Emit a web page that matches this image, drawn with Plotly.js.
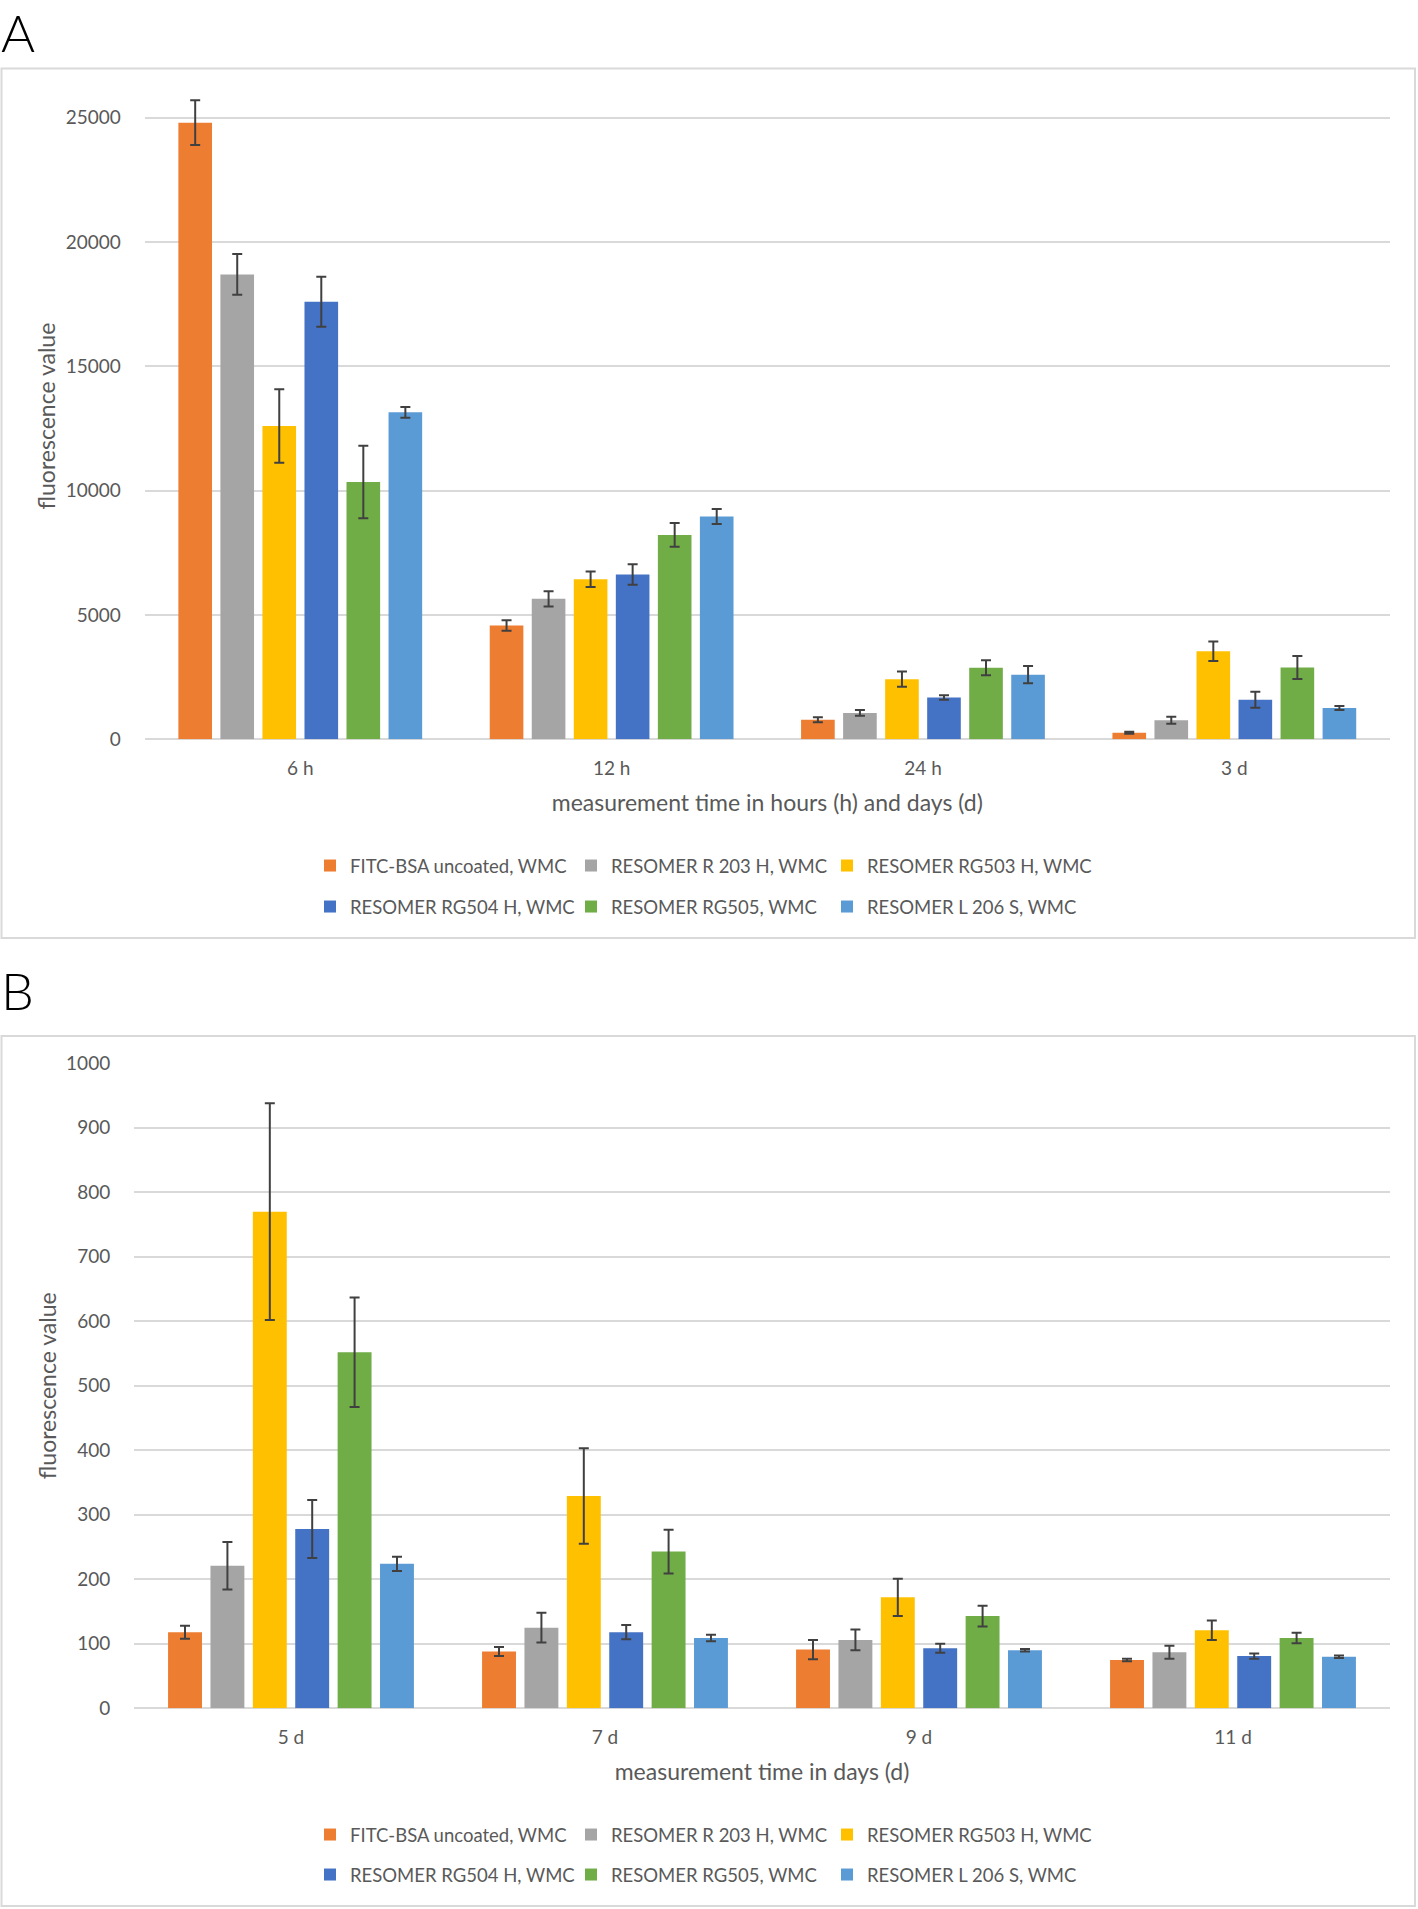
<!DOCTYPE html>
<html>
<head>
<meta charset="utf-8">
<script src="https://cdn.plot.ly/plotly-3.0.1.min.js"></script>
<style>
  html, body { margin: 0; padding: 0; background: #ffffff; }
  #chart { width: 1418px; height: 1909px; }
</style>
</head>
<body>
<div id="chart"></div>
<script>
// ---------- Data ----------
const seriesNames = [
  "FITC-BSA uncoated, WMC",
  "RESOMER R 203 H, WMC",
  "RESOMER RG503 H, WMC",
  "RESOMER RG504 H, WMC",
  "RESOMER RG505, WMC",
  "RESOMER L 206 S, WMC"
];
const seriesColors = ["#ED7D31", "#A5A5A5", "#FFC000", "#4472C4", "#70AD47", "#5B9BD5"];

// Panel A
const categoriesA = ["6 h", "12 h", "24 h", "3 d"];
const fitcA    = [24800, 4580, 790, 260];
const r203hA   = [18700, 5650, 1060, 770];
const rg503hA  = [12600, 6440, 2420, 3540];
const rg504hA  = [17600, 6630, 1680, 1590];
const rg505A   = [10350, 8220, 2880, 2890];
const l206sA   = [13150, 8960, 2600, 1260];
const fitcAErr   = [900, 210, 100, 40];
const r203hAErr  = [820, 310, 115, 140];
const rg503hAErr = [1480, 310, 310, 390];
const rg504hAErr = [1010, 410, 90, 320];
const rg505AErr  = [1460, 480, 300, 460];
const l206sAErr  = [220, 300, 350, 80];
const yTicksA = [0, 5000, 10000, 15000, 20000, 25000];

// Panel B
const categoriesB = ["5 d", "7 d", "9 d", "11 d"];
const fitcB    = [118, 88, 91, 75];
const r203hB   = [221, 125, 106, 87];
const rg503hB  = [770, 329, 172, 121];
const rg504hB  = [278, 118, 93, 81];
const rg505B   = [552, 243, 143, 109];
const l206sB   = [224, 109, 90, 80];
const fitcBErr   = [10, 7, 15, 2];
const r203hBErr  = [37, 23, 16, 10];
const rg503hBErr = [168, 74, 29, 15];
const rg504hBErr = [45, 11, 7, 4];
const rg505BErr  = [85, 34, 16, 8];
const l206sBErr  = [11, 5, 2, 2];
const yTicksB = [0, 100, 200, 300, 400, 500, 600, 700, 800, 900, 1000];

const xTitleA = "measurement time in hours (h) and days (d)";
const xTitleB = "measurement time in days (d)";
const yTitle = "fluorescence value";

// ---------- Layout constants (pixels) ----------
const W = 1418, H = 1909;
const px = v => v / W;
const py = v => 1 - v / H;

const valuesA = [fitcA, r203hA, rg503hA, rg504hA, rg505A, l206sA];
const errsA = [fitcAErr, r203hAErr, rg503hAErr, rg504hAErr, rg505AErr, l206sAErr];
const valuesB = [fitcB, r203hB, rg503hB, rg504hB, rg505B, l206sB];
const errsB = [fitcBErr, r203hBErr, rg503hBErr, rg504hBErr, rg505BErr, l206sBErr];

const FONT = "Lato, 'Liberation Sans', Arial, sans-serif";
const TXT = "#595959";

// legend grid: legend box left x (px); rows at these y (px)
const legendColX = [310, 571, 827];
const legendRowYA = [866, 907];
const legendRowYB = [1835, 1875];

function legendId(n) { return n === 1 ? "legend" : "legend" + n; }

function makeTrace(i, cats, vals, errs, xa, ya, legNum) {
  return {
    type: "bar",
    name: seriesNames[i],
    x: cats,
    y: vals,
    xaxis: xa,
    yaxis: ya,
    legend: legendId(legNum),
    marker: { color: seriesColors[i], line: { width: 0 } },
    error_y: { type: "data", array: errs, visible: true, color: "#404040", thickness: 2, width: 5 },
    hoverinfo: "x+y+name"
  };
}

const traces = [];
for (let i = 0; i < 6; i++) {
  traces.push(makeTrace(i, categoriesA, valuesA[i], errsA[i], "x", "y", i + 1));
}
for (let i = 0; i < 6; i++) {
  traces.push(makeTrace(i, categoriesB, valuesB[i], errsB[i], "x2", "y2", i + 7));
}

function legendCfg(xl, yc) {
  return {
    orientation: "h",
    x: px(xl), xanchor: "left",
    y: py(yc), yanchor: "middle",
    font: { family: FONT, size: 18.5, color: TXT },
    bgcolor: "rgba(0,0,0,0)",
    borderwidth: 0,
    itemclick: false, itemdoubleclick: false
  };
}

const yAxisCommon = {
  showgrid: true, gridcolor: "#d9d9d9", gridwidth: 1.5,
  zeroline: true, zerolinecolor: "#d9d9d9", zerolinewidth: 2,
  showline: false,
  ticks: "outside", ticklen: 19, tickcolor: "rgba(0,0,0,0)",
  tickformat: "d",
  tickfont: { family: FONT, size: 19, color: TXT },
  fixedrange: true
};
const xAxisCommon = {
  type: "category",
  showgrid: false, zeroline: false, showline: false,
  ticks: "outside", ticklen: 12, tickcolor: "rgba(0,0,0,0)",
  tickfont: { family: FONT, size: 19, color: TXT },
  fixedrange: true
};

const layout = {
  width: W, height: H,
  margin: { l: 0, r: 0, t: 0, b: 0, pad: 0 },
  paper_bgcolor: "#ffffff",
  plot_bgcolor: "rgba(0,0,0,0)",
  barmode: "group",
  bargap: 0.19,
  bargroupgap: 0.2,
  font: { family: FONT, color: TXT },
  showlegend: true,
  xaxis: Object.assign({}, xAxisCommon, {
    domain: [px(144.6), px(1390)], anchor: "y",
    title: { text: xTitleA, font: { family: FONT, size: 23, color: TXT }, standoff: 16 }
  }),
  yaxis: Object.assign({}, yAxisCommon, {
    domain: [py(739.3), py(92.9)], anchor: "x",
    range: [0, 26000], tickvals: yTicksA,
    title: { text: yTitle, font: { family: FONT, size: 23, color: TXT }, standoff: 3 }
  }),
  xaxis2: Object.assign({}, xAxisCommon, {
    domain: [px(134), px(1390)], anchor: "y2",
    title: { text: xTitleB, font: { family: FONT, size: 23, color: TXT }, standoff: 16 }
  }),
  yaxis2: Object.assign({}, yAxisCommon, {
    domain: [py(1708.3), py(1063.3)], anchor: "x2",
    range: [0, 1000], tickvals: yTicksB,
    title: { text: yTitle, font: { family: FONT, size: 23, color: TXT }, standoff: 3 }
  }),
  shapes: [
    { type: "rect", xref: "paper", yref: "paper", x0: px(1.5), x1: px(1415), y0: py(938), y1: py(68.5),
      line: { color: "#d9d9d9", width: 2 }, fillcolor: "rgba(0,0,0,0)", layer: "below" },
    { type: "rect", xref: "paper", yref: "paper", x0: px(1.5), x1: px(1415), y0: py(1906), y1: py(1036),
      line: { color: "#d9d9d9", width: 2 }, fillcolor: "rgba(0,0,0,0)", layer: "below" }
  ],
  annotations: [
    { text: "A", xref: "paper", yref: "paper", x: px(0), y: 1, xanchor: "left", yanchor: "top",
      showarrow: false, borderpad: 0, font: { family: FONT, size: 52, color: "#000000", weight: 300 } },
    { text: "B", xref: "paper", yref: "paper", x: px(0), y: py(990), xanchor: "left", yanchor: "middle",
      showarrow: false, borderpad: 0, font: { family: FONT, size: 52, color: "#000000", weight: 300 } }
  ]
};

// twelve single-entry legends laid out as a 3x2 grid per panel
for (let i = 0; i < 6; i++) {
  const col = i % 3, row = Math.floor(i / 3);
  layout[legendId(i + 1)] = legendCfg(legendColX[col], legendRowYA[row]);
  layout[legendId(i + 7)] = legendCfg(legendColX[col], legendRowYB[row]);
}

Plotly.newPlot("chart", traces, layout, { displayModeBar: false, responsive: false });
</script>
</body>
</html>
